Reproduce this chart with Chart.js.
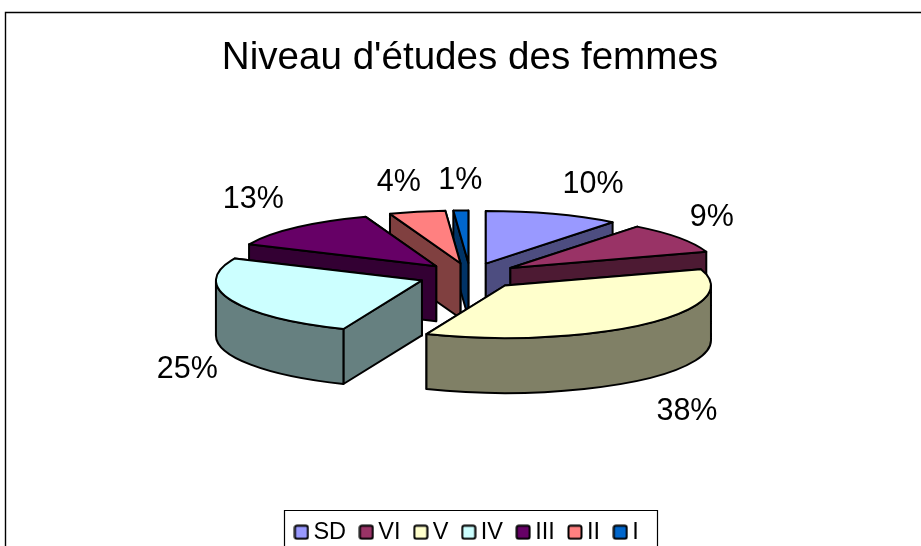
<!DOCTYPE html>
<html><head><meta charset="utf-8">
<style>html,body{margin:0;padding:0;background:#fff;overflow:hidden}#wrap{position:relative;width:921px;height:546px}</style>
<script src="https://cdn.jsdelivr.net/npm/chart.js@4"></script>
</head><body><div id="wrap"><canvas id="c" width="921" height="546"></canvas></div>
<script>
const categories = ['SD','VI','V','IV','III','II','I'];
const values = [10,9,38,25,13,4,1];
const topColors = ['#9999FF','#993366','#FFFFCC','#CCFFFF','#660066','#FF8080','#0066CC'];
const wallColors = ['#4D4D80','#4D1A33','#808066','#668080','#330033','#804040','#003366'];
const titleText = "Niveau d'études des femmes";
const labelNudgeX = [27,-4,4,10,-11,-13,0];
const labelNudgeY = [2,2,9,5,-3,3,3];
// perspective distortion of the 3D view: degrees added to each slice's end boundary
const perspectiveShift = [2,3.6,-2.8,-0.5,-2,-0.6,0];

const FONT = '"Liberation Sans", Arial, sans-serif';
const VIEW = {cy:276, radius:206, tilt:0.255, depth:55, explode:0.248, labelR:260, labelRy:85, stroke:2};

function swatch(color){
  const s=document.createElement('canvas'); s.width=16; s.height=16;
  const g=s.getContext('2d');
  g.fillStyle=color; g.strokeStyle='#000'; g.lineWidth=2;
  g.beginPath(); g.roundRect(1.5,1.5,13,13,2); g.fill(); g.stroke();
  return s;
}

const frame3d = {
  id:'frame3d',
  beforeDraw(chart){
    const g=chart.ctx;
    g.save(); g.strokeStyle='#000'; g.lineWidth=1.4;
    g.beginPath(); g.moveTo(5.5,546); g.lineTo(5.5,12.5); g.lineTo(921,12.5); g.stroke();
    g.lineWidth=1.2;
    g.beginPath(); g.moveTo(284.5,546); g.lineTo(284.5,510.5); g.lineTo(657.5,510.5); g.lineTo(657.5,546); g.stroke();
    g.restore();
  },
  beforeDatasetsDraw(chart){
    const g=chart.ctx, arcs=chart.getDatasetMeta(0).data;
    const V=VIEW, R=V.radius, Ry=R*V.tilt;
    const E=R*V.explode, deg=Math.PI/180;
    const slices=arcs.map((a,i)=>{
      const s=a.getProps(['x','startAngle','endAngle','outerRadius'],true);
      const mid=(s.startAngle+s.endAngle)/2;
      const ax=s.x+Math.cos(mid)*E, ay=V.cy+Math.sin(mid)*E*V.tilt;
      const t0=s.startAngle+(i?perspectiveShift[i-1]:0)*deg, t1=s.endAngle+perspectiveShift[i]*deg;
      return {i,t0,t1,mid,ax,ay,key:ay+Math.sin(mid)*Ry*0.5};
    });
    const P=(s,t,h)=>[s.ax+Math.cos(t)*R, s.ay+Math.sin(t)*Ry+h];
    const paint=(fill)=>{g.fillStyle=fill;g.fill();g.strokeStyle='#000';g.lineWidth=V.stroke;g.lineJoin='round';g.stroke();};
    const radial=(s,t,c)=>{
      const p=P(s,t,0),q=P(s,t,V.depth);
      g.beginPath();g.moveTo(s.ax,s.ay);g.lineTo(p[0],p[1]);g.lineTo(q[0],q[1]);g.lineTo(s.ax,s.ay+V.depth);g.closePath();paint(c);
    };
    [...slices].sort((a,b)=>a.key-b.key).forEach(s=>{
      const c=wallColors[s.i];
      const startFacing=Math.cos(s.t0)<0, endFacing=Math.cos(s.t1)>0;
      if(!startFacing) radial(s,s.t0,c);
      if(!endFacing) radial(s,s.t1,c);
      if(startFacing) radial(s,s.t0,c);
      if(endFacing) radial(s,s.t1,c);
      const a=Math.max(s.t0,0), b=Math.min(s.t1,Math.PI);
      if(b>a){
        const q=P(s,b,V.depth);
        g.beginPath();
        g.ellipse(s.ax,s.ay,R,Ry,0,a,b);
        g.lineTo(q[0],q[1]);
        g.ellipse(s.ax,s.ay+V.depth,R,Ry,0,b,a,true);
        g.closePath();paint(c);
      }
      g.beginPath();g.moveTo(s.ax,s.ay);
      g.ellipse(s.ax,s.ay,R,Ry,0,s.t0,s.t1);
      g.closePath();paint(topColors[s.i]);
    });
    g.save();g.fillStyle='#000';g.font='30.5px '+FONT;g.textAlign='center';g.textBaseline='middle';
    slices.forEach(s=>{
      const sy=Math.sin(s.mid);
      const x=s.ax+Math.cos(s.mid)*V.labelR+labelNudgeX[s.i];
      const y=s.ay+sy*V.labelRy+(sy>0?V.depth:0)+labelNudgeY[s.i];
      g.fillText(values[s.i]+'%',x,y);
    });
    g.restore();
    return false;
  }
};

new Chart(document.getElementById('c'),{
  type:'pie',
  data:{labels:categories,datasets:[{data:values,backgroundColor:topColors,borderColor:'#000',borderWidth:2}]},
  plugins:[frame3d],
  options:{
    responsive:false,animation:false,
    layout:{padding:{left:19,right:0,top:10,bottom:-8}},
    plugins:{
      tooltip:{enabled:false},
      title:{display:true,text:titleText,color:'#000',font:{family:FONT,size:38.6,weight:'normal'},padding:{top:25,bottom:8}},
      legend:{
        position:'bottom',
        labels:{
          color:'#000',font:{family:FONT,size:23.5},padding:20,usePointStyle:true,pointStyleWidth:0.5,
          generateLabels:()=>categories.map((t,i)=>({text:t,fillStyle:topColors[i],strokeStyle:'#000',pointStyle:swatch(topColors[i]),index:i,hidden:false,lineWidth:2}))
        }
      }
    }
  }
});
</script></body></html>
